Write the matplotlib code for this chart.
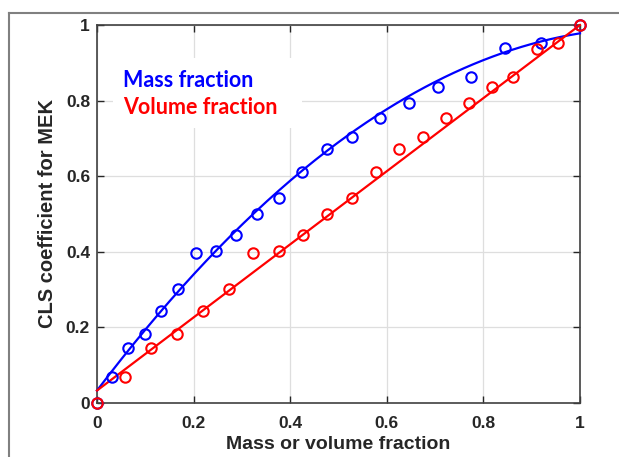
import numpy as np
import matplotlib
matplotlib.use("Agg")
import matplotlib.pyplot as plt
from matplotlib.patches import Rectangle
from matplotlib.lines import Line2D

# Data
mass_x = [0.0, 0.032, 0.065, 0.099, 0.133, 0.168, 0.206, 0.246, 0.287, 0.331, 0.377,
          0.425, 0.476, 0.527, 0.585, 0.646, 0.707, 0.774, 0.845, 0.919, 1.0]
mass_y = [0.0, 0.070, 0.145, 0.183, 0.244, 0.302, 0.398, 0.402, 0.444, 0.500, 0.543,
          0.612, 0.671, 0.704, 0.755, 0.794, 0.837, 0.863, 0.938, 0.952, 1.0]
vol_x = [0.0, 0.057, 0.112, 0.165, 0.220, 0.273, 0.324, 0.377, 0.427, 0.476, 0.527,
         0.578, 0.626, 0.674, 0.722, 0.770, 0.817, 0.862, 0.910, 0.955, 1.0]
vol_y = [0.0, 0.070, 0.145, 0.183, 0.244, 0.302, 0.398, 0.402, 0.444, 0.500, 0.543,
         0.612, 0.672, 0.704, 0.755, 0.794, 0.837, 0.863, 0.936, 0.952, 1.0]
# quadratic fit coefficients (highest power first)
mass_fit = [-0.738, 1.683, 0.033]
vol_fit = [0.0, 0.967, 0.033]

xticks = [0, 0.2, 0.4, 0.6, 0.8, 1]
yticks = [0, 0.2, 0.4, 0.6, 0.8, 1]
xtick_labels = ["0", "0.2", "0.4", "0.6", "0.8", "1"]
ytick_labels = ["0", "0.2", "0.4", "0.6", "0.8", "1"]

fig = plt.figure(figsize=(6.19, 4.57), dpi=100)
ax = fig.add_axes([97/619, 54/457, 483/619, 378/457])

# outer frame lines (top and left)
fig.add_artist(Line2D([9/619, 1], [1 - 13/457, 1 - 13/457], transform=fig.transFigure,
                      color="#808080", lw=1.5))
fig.add_artist(Line2D([9/619, 9/619], [0, 1 - 13/457], transform=fig.transFigure,
                      color="#808080", lw=1.5))

ax.set_axisbelow(True)
ax.grid(True, color="#dedede", lw=0.9)

xx = np.linspace(0, 1, 200)
ax.plot(xx, np.polyval(mass_fit, xx), color="#0000ff", lw=1.6, zorder=3, clip_on=False)
ax.plot(xx, np.polyval(vol_fit, xx), color="#ff0000", lw=1.6, zorder=3, clip_on=False)
ax.plot(mass_x, mass_y, "o", mfc="none", mec="#0000ff", ms=7.5, mew=1.5, zorder=4, clip_on=False)
ax.plot(vol_x, vol_y, "o", mfc="none", mec="#ff0000", ms=7.5, mew=1.5, zorder=5, clip_on=False)

ax.add_patch(Rectangle((0.033, 0.727), 0.391, 0.186, transform=ax.transAxes,
                       facecolor="white", edgecolor="none", zorder=2))
ax.text(0.054, 0.854, "Mass fraction", color="#0000ff", fontsize=15.5, fontweight="bold",
        family="Lato", va="center", ha="left", zorder=6)
ax.text(0.054, 0.783, "Volume fraction", color="#ff0000", fontsize=15.5, fontweight="bold",
        family="Lato", va="center", ha="left", zorder=6)

ax.set_xlim(0, 1)
ax.set_ylim(0, 1)
ax.set_xticks(xticks)
ax.set_xticklabels(xtick_labels)
ax.set_yticks(yticks)
ax.set_yticklabels(ytick_labels)
ax.tick_params(direction="in", length=5, width=1, top=True, right=True, color="#262626",
               labelsize=12.5, labelcolor="#262626")
ax.tick_params(axis="x", pad=9.5)
ax.tick_params(axis="y", pad=5)
for lab in ax.get_xticklabels() + ax.get_yticklabels():
    lab.set_fontweight("bold")
    lab.set_family("Liberation Sans")
for s in ax.spines.values():
    s.set_color("#404040")
    s.set_linewidth(1.2)

ax.set_xlabel("Mass or volume fraction", fontsize=14, fontweight="bold",
              family="Liberation Sans", color="#262626", labelpad=3.5)
ax.set_ylabel("CLS coefficient for MEK", fontsize=14.5, fontweight="bold",
              family="Liberation Sans", color="#262626", labelpad=6)

fig.savefig("out.png", dpi=100)
